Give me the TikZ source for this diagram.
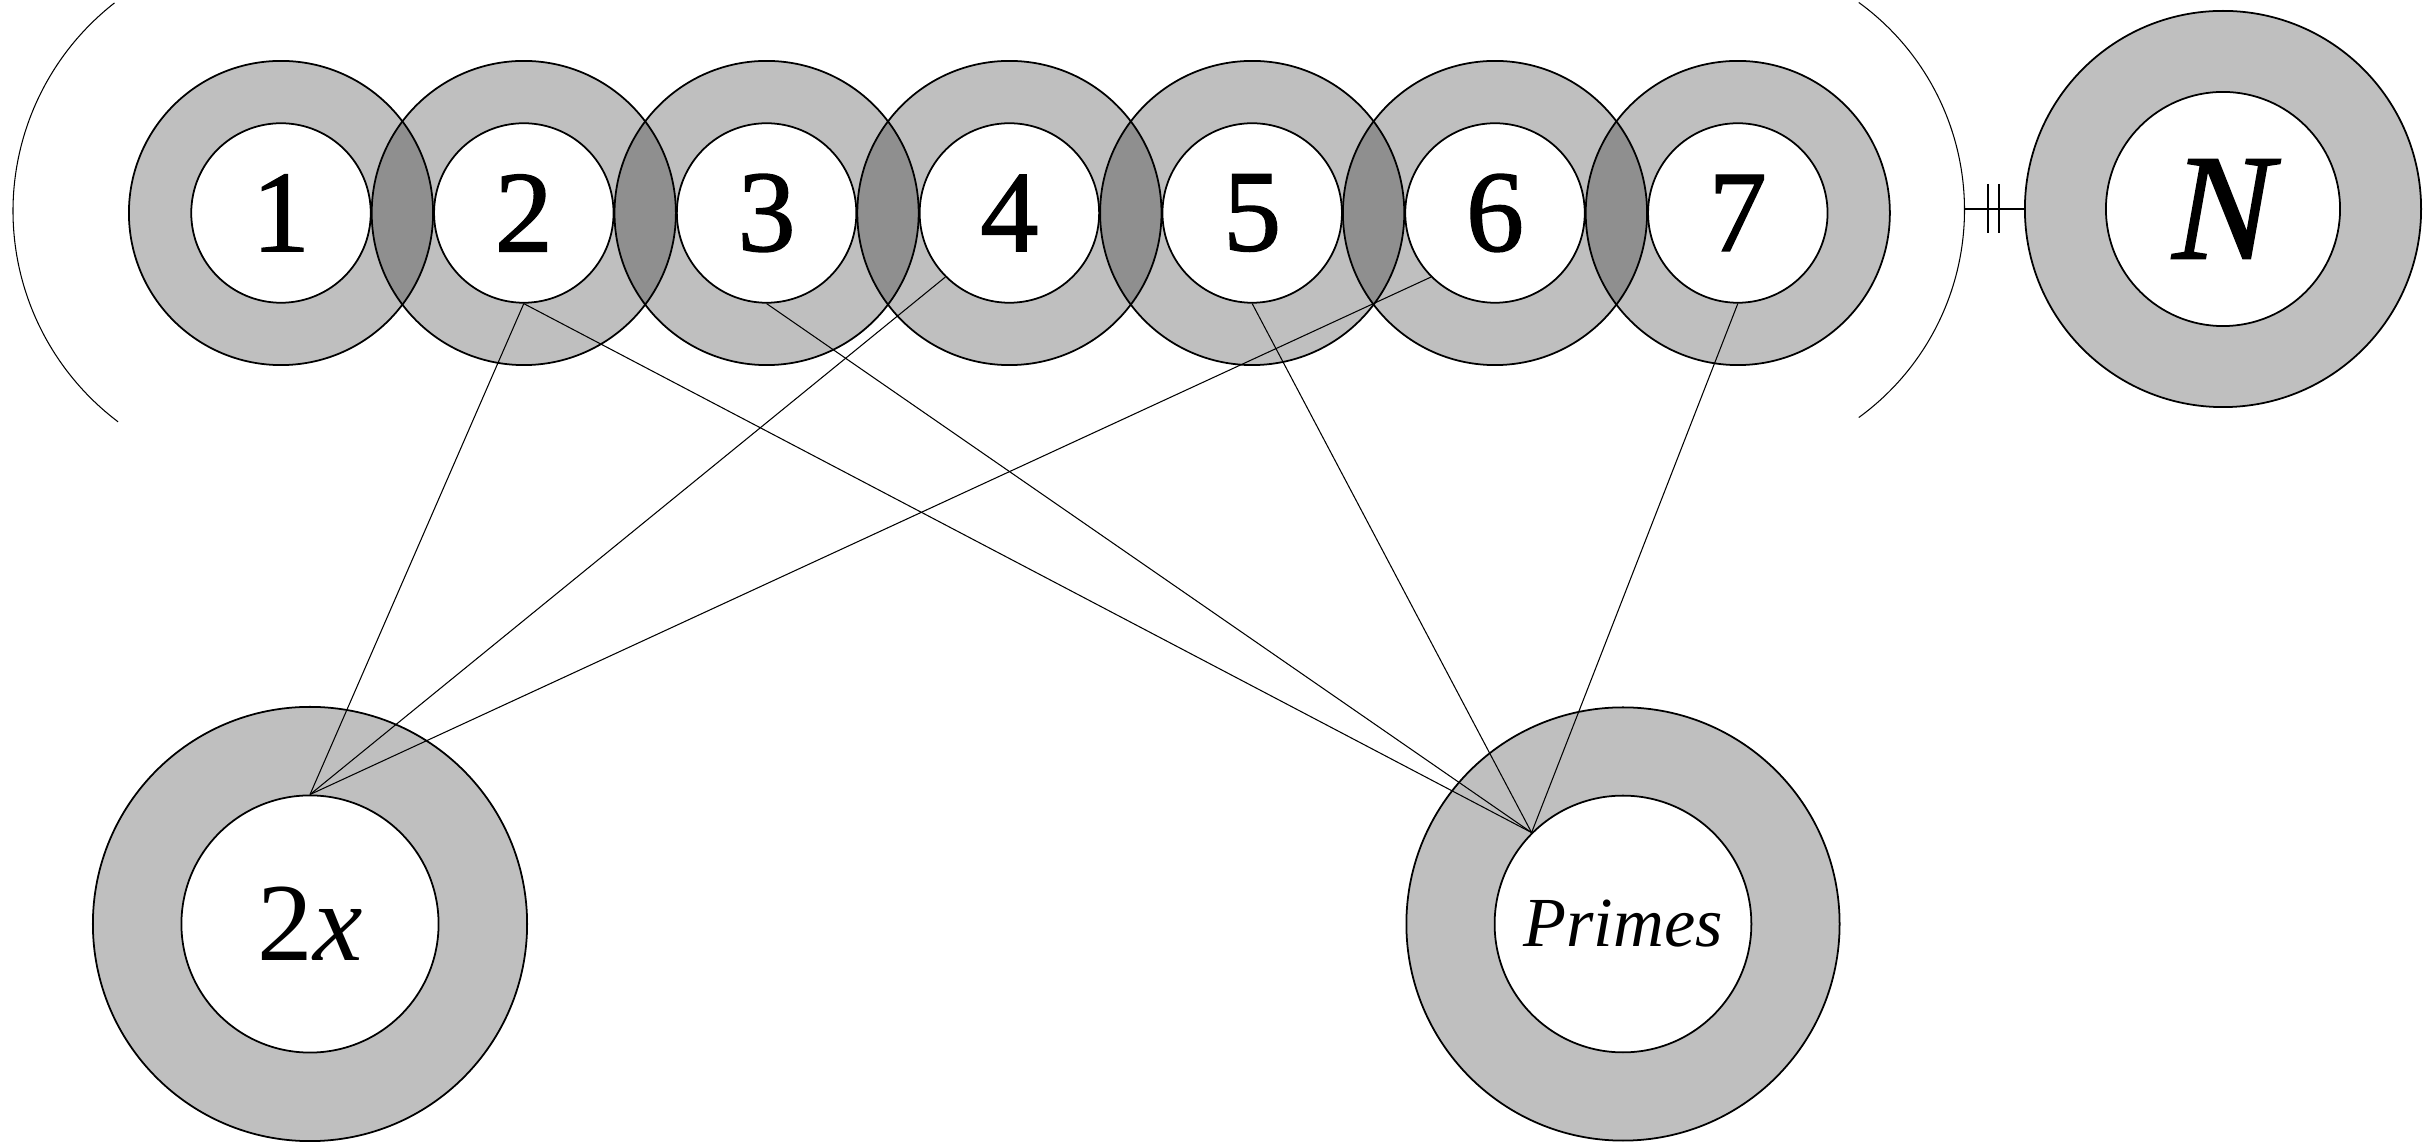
\documentclass[tikz,border=0pt]{standalone}
\usepackage{fontspec}
\setmainfont{Liberation Serif}
\begin{document}
\begin{tikzpicture}[x=0.01cm,y=0.01cm,
  ring/.style={circle,draw,line width=0.5pt,fill=black,fill opacity=0.25,inner sep=0pt},
  hole/.style={circle,draw,line width=0.5pt,fill=white,inner sep=0pt,text opacity=1},
  link/.style={line width=0.3pt},
  digit/.style={font=\fontsize{33pt}{36pt}\selectfont\addfontfeature{FakeBold=1.2}}]
\fill[white] (0,0) rectangle (2423,1142);
\useasboundingbox (0,0) rectangle (2423,1142);
% row of rings
\foreach \i in {1,...,7} {
  \node[ring,minimum size=3.04cm] (o\i) at ({281+242.8*(\i-1)},929) {};
}
\foreach \i in {1,...,7} {
  \node[hole,digit,minimum size=1.794cm] (i\i) at (o\i.center) {\i};
}
% N
\node[ring,minimum size=3.96cm] (oN) at (2223,933) {};
\node[hole,minimum size=2.34cm,font=\fontsize{43pt}{48pt}\selectfont\itshape\addfontfeature{FakeBold=1.2}] (iN) at (oN.center) {N};
% 2x
\node[ring,minimum size=4.34cm] (ox) at (310,218) {};
\node[hole,minimum size=2.57cm,font=\fontsize{31.6pt}{36pt}\selectfont] (ix) at (ox.center) {2\textit{x}};
% Primes
\node[ring,minimum size=4.33cm] (op) at (1623,218) {};
\node[hole,minimum size=2.566cm,font=\fontsize{20pt}{23pt}\selectfont] (ip) at (op.center) {\textit{Primes}};
% connectors
\draw[link] (i2.south) -- (ix.north);
\draw[link] (i4.south west) -- (ix.north);
\draw[link] (i6.south west) -- (ix.north);
\draw[link] (i2.south) -- (ip.north west);
\draw[link] (i3.south) -- (ip.north west);
\draw[link] (i5.south) -- (ip.north west);
\draw[link] (i7.south) -- (ip.north west);
% brackets
\draw[link] (277,931) ++(128:264) arc[start angle=128,end angle=233,radius=264];
\draw[link] (1708,932) ++(-54:256.5) arc[start angle=-54,end angle=54,radius=256.5];
\coordinate (rp) at (1965,933);
\draw[link] (rp) -- (oN.west);
\draw[link] (1988,958) -- (1988,909);
\draw[link] (1999,958) -- (1999,909);
\end{tikzpicture}
\end{document}
